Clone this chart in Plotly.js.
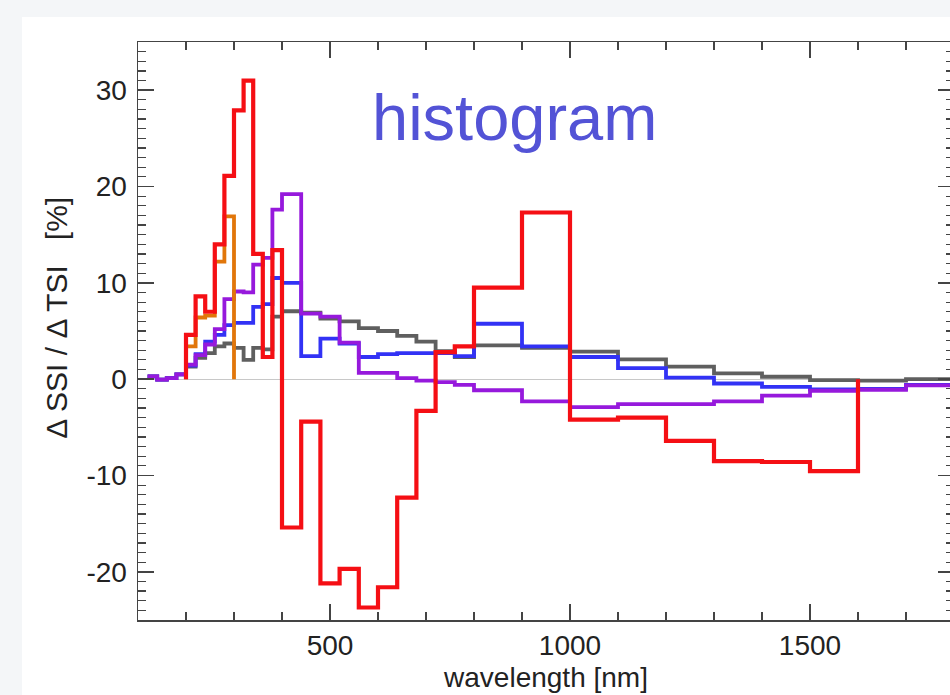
<!DOCTYPE html>
<html><head><meta charset="utf-8">
<script src="https://cdn.plot.ly/plotly-3.0.1.min.js"></script>
<style>
html,body{margin:0;padding:0;width:950px;height:695px;overflow:hidden;background:#f4f6f8;}
#panel{position:absolute;left:22px;top:17px;width:1000px;height:720px;background:#ffffff;}
#chart{position:absolute;left:0;top:0;width:966px;height:695px;}
</style></head>
<body><div id="panel"></div><div id="chart"></div>
<script>
// bin edges (nm)
const binEdges = [120,140,160,180,200,220,240,260,280,300,320,340,360,380,400,
                  440,480,520,560,600,640,680,720,760,800,
                  900,1000,1100,1200,1300,1400,1500,1600,1700,1800];
// values per bin (%), one per bin
const grayVals   = [0.3,-0.05,0.1,0.5, 1.3,2.2,2.7,3.4,3.7,3.25,2.0,3.25,3.1,6.5,
                    7.05,6.9,6.3,6.0,5.3,5.0,4.5,3.9,2.9,2.3,
                    3.5,3.25,2.85,2.05,1.3,0.6,0.25,-0.1,-0.15,0.0];
const blueVals   = [0.3,-0.05,0.1,0.5, 1.4,2.6,3.9,4.6,5.6,5.85,5.85,7.5,7.8,10.5,
                    10.0,2.4,4.2,3.7,2.3,2.6,2.7,2.7,2.7,2.4,
                    5.75,3.4,2.3,1.15,0.15,-0.45,-0.8,-1.05,-1.0,-0.6];
const purpleVals = [0.3,-0.05,0.1,0.5, 1.5,2.5,3.6,5.2,8.3,9.1,9.0,11.9,12.6,17.6,
                    19.2,6.8,6.5,3.8,0.65,0.65,0.1,-0.15,-0.3,-0.6,
                    -1.15,-2.3,-2.9,-2.6,-2.6,-2.3,-1.7,-1.2,-1.1,-0.65];
// red and orange start at the 200 nm edge (bin index 4)
const orangeStart = 4;
const orangeVals = [3.4,6.4,6.6,12.2,16.9];
const redStart = 4;
const redVals    = [4.6,8.6,7.0,14.0,21.1,27.9,31.0,13.0,2.3,13.4,
                    -15.4,-4.4,-21.2,-19.7,-23.7,-21.6,-12.3,-3.3,2.8,3.4,
                    9.5,17.3,-4.2,-4.0,-6.4,-8.5,-8.6,-9.55];
const xTicks = [500,1000,1500];
const yTicks = [-20,-10,0,10,20,30];
const yTickText = ['-20','-10','0','10','20','30'];

function steps(startBin, vals, dropStart, dropEnd){
  const x=[], y=[];
  if(dropStart){ x.push(binEdges[startBin]); y.push(0); }
  vals.forEach((v,i)=>{ x.push(binEdges[startBin+i]); y.push(v); });
  x.push(binEdges[startBin+vals.length]);
  y.push(dropEnd ? 0 : vals[vals.length-1]);
  return {x, y};
}
function tr(d, color, w){
  return {x:d.x, y:d.y, type:'scatter', mode:'lines',
          line:{shape:'hv', color:color, width:w}, hoverinfo:'skip'};
}
const data = [
  tr(steps(0, grayVals, false, false), 'rgb(95,95,95)', 3.8),
  tr(steps(0, blueVals, false, false), 'rgb(50,50,245)', 3.8),
  tr(steps(0, purpleVals, false, false), 'rgb(150,25,220)', 3.8),
  tr(steps(orangeStart, orangeVals, true, true), 'rgb(225,118,10)', 3.8),
  tr(steps(redStart, redVals, true, true), 'rgb(245,15,20)', 4.2)
];
const sans = '"Liberation Sans", Arial, Helvetica, sans-serif';
const axCol = '#444';
const layout = {
  width:966, height:695,
  margin:{l:138, r:12, t:42, b:75, pad:0},
  paper_bgcolor:'rgba(0,0,0,0)', plot_bgcolor:'rgba(0,0,0,0)',
  showlegend:false,
  xaxis:{range:[100,1800], tickmode:'array', tickvals:xTicks, ticks:'inside', ticklen:16, tickwidth:1.5,
    tickcolor:axCol, showline:true, linecolor:axCol, linewidth:1.5, mirror:'allticks',
    showgrid:false, zeroline:false, tickfont:{family:sans, size:28, color:'#222'},
    minor:{ticks:'inside', ticklen:8, tickwidth:1.2, tickcolor:axCol, dtick:100, tick0:0, showgrid:false},
    title:{text:'wavelength [nm]', font:{family:sans, size:28, color:'#222'}, standoff:7}},
  yaxis:{range:[-25,35], tickmode:'array', tickvals:yTicks, ticktext:yTickText, ticks:'inside', ticklen:16, tickwidth:1.5,
    tickcolor:axCol, showline:true, linecolor:axCol, linewidth:1.5, mirror:'allticks',
    showgrid:false, zeroline:true, zerolinecolor:'#c8c8c8', zerolinewidth:1,
    tickfont:{family:sans, size:28, color:'#222'}, ticklabelstandoff:4,
    minor:{ticks:'inside', ticklen:8, tickwidth:1.2, tickcolor:axCol, dtick:1, tick0:0, showgrid:false}},
  annotations:[
    {text:'histogram', xref:'paper', yref:'paper', x:0.4608, y:0.87, xanchor:'center', yanchor:'middle',
     showarrow:false, font:{family:sans, size:65, color:'rgb(83,83,214)'}},
    {text:'\u0394 SSI / \u0394 TSI \u00a0\u00a0[%]', xref:'paper', yref:'paper', x:-0.0993, y:0.523,
     xanchor:'center', yanchor:'middle', textangle:-90, showarrow:false,
     font:{family:sans, size:30, color:'#222'}}
  ]
};
Plotly.newPlot('chart', data, layout, {staticPlot:true, displayModeBar:false});
</script>
</body></html>
